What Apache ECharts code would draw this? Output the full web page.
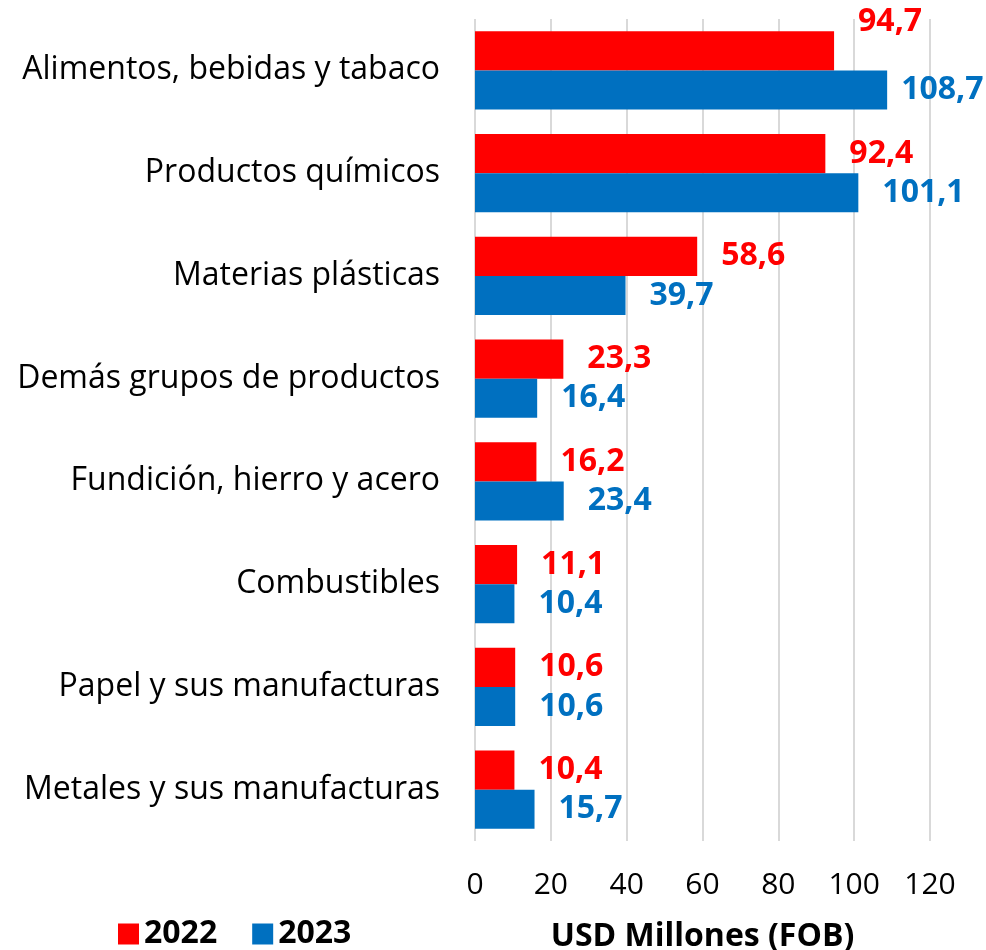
<!DOCTYPE html>
<html>
<head>
<meta charset="utf-8">
<script src="https://cdn.jsdelivr.net/npm/echarts@6/dist/echarts.min.js"></script>
<style>
  html, body { margin: 0; padding: 0; background: #fff; }
  #chart { width: 986px; height: 950px; }
</style>
</head>
<body>
<div id="chart"></div>
<script>
const categories = [
  'Alimentos, bebidas y tabaco',
  'Productos químicos',
  'Materias plásticas',
  'Demás grupos de productos',
  'Fundición, hierro y acero',
  'Combustibles',
  'Papel y sus manufacturas',
  'Metales y sus manufacturas',
]
const values2022 = [94.7, 92.4, 58.6, 23.3, 16.2, 11.1, 10.6, 10.4]
const values2023 = [108.7, 101.1, 39.7, 16.4, 23.4, 10.4, 10.6, 15.7]
const seriesNames = ['2022', '2023']
const axisTicks = { min: 0, max: 120, interval: 20 }

const FONT = '"Open Sans", sans-serif'
const RED = '#ff0000'
const BLUE = '#0070c0'
const fmt = (p) => p.value.toFixed(1).replace('.', ',')

const chart = echarts.init(document.getElementById('chart'), null, { renderer: 'canvas' })

const labelBase = (color) => ({
  show: true,
  position: 'right',
  distance: 24,
  formatter: fmt,
  color,
  fontFamily: FONT,
  fontWeight: 'bold',
  fontSize: 32,
})

chart.setOption({
  animation: false,
  textStyle: { fontFamily: FONT },
  legend: {
    left: 113,
    top: 913,
    itemWidth: 21,
    itemHeight: 21,
    itemGap: 35,
    icon: 'rect',
    textStyle: { fontFamily: FONT, fontWeight: 'bold', fontSize: 32, color: '#000', padding: [0, 0, 0, 0] },
    data: seriesNames,
  },
  grid: { left: 475, right: 56, top: 19, bottom: 109, containLabel: false, outerBoundsMode: 'none' },
  xAxis: {
    type: 'value',
    min: axisTicks.min,
    max: axisTicks.max,
    interval: axisTicks.interval,
    name: 'USD Millones (FOB)',
    nameLocation: 'middle',
    nameGap: 80,
    nameTextStyle: { fontFamily: FONT, fontWeight: 'bold', fontSize: 32, color: '#000' },
    axisLine: { show: false },
    axisTick: { show: false },
    axisLabel: { color: '#000', fontSize: 30, fontFamily: FONT, margin: 29 },
    splitLine: { show: true, lineStyle: { color: '#d9d9d9', width: 2 } },
  },
  yAxis: {
    type: 'category',
    inverse: true,
    data: categories,
    axisLine: { show: false },
    axisTick: { show: false },
    axisLabel: { color: '#000', fontSize: 32, fontFamily: FONT, margin: 35 },
  },
  series: [
    {
      name: seriesNames[0],
      type: 'bar',
      barGap: '0%',
      barCategoryGap: '24%',
      itemStyle: { color: RED },
      label: labelBase(RED),
      data: values2022.map((v, i) => i === 0 ? { value: v, label: { offset: [0, -29] } } : v),
    },
    {
      name: seriesNames[1],
      type: 'bar',
      barGap: '0%',
      barCategoryGap: '24%',
      itemStyle: { color: BLUE },
      label: labelBase(BLUE),
      data: values2023.map((v, i) => i === 0 ? { value: v, label: { distance: 14 } } : v),
    },
  ],
})
</script>
</body>
</html>
